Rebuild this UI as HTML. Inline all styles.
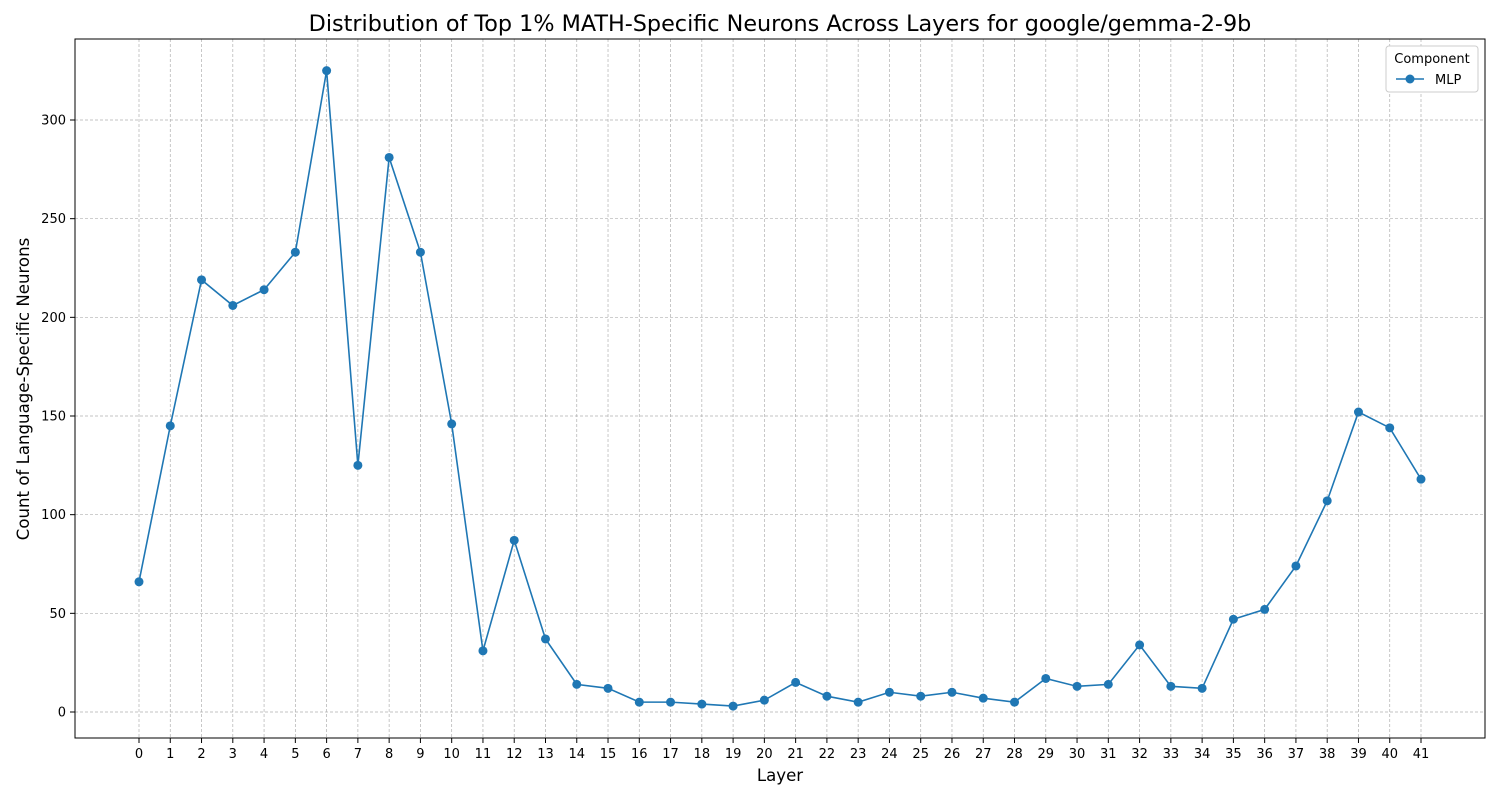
<!DOCTYPE html>
<html><head><meta charset="utf-8"><style>
body{margin:0;background:#fff;font-family:"DejaVu Sans","Liberation Sans",sans-serif;}
svg text{font-family:"DejaVu Sans","Liberation Sans",sans-serif;}
</style></head><body>
<svg id="chart" width="1500" height="800" viewBox="0 0 1500 800" xmlns="http://www.w3.org/2000/svg">
<rect width="1500" height="800" fill="#fff"/>
<text x="780" y="31" font-size="22.3" text-anchor="middle">Distribution of Top 1% MATH-Specific Neurons Across Layers for google/gemma-2-9b</text>
<g id="grid"></g>
<g id="xticks"></g>
<g id="yticks"></g>
<rect x="75" y="39" width="1410" height="699" fill="none" stroke="#000" stroke-width="1"/>
<g id="series"></g>
<text x="780" y="781" font-size="16.6" text-anchor="middle">Layer</text>
<text transform="translate(29,389) rotate(-90)" font-size="16.6" text-anchor="middle">Count of Language-Specific Neurons</text>
<g>
<rect x="1386" y="46" width="92" height="46" rx="3" fill="#fff" stroke="#ccc"/>
<text x="1432" y="63" font-size="13" text-anchor="middle">Component</text>
<line x1="1396" y1="79" x2="1424" y2="79" stroke="#1f77b4" stroke-width="1.5"/>
<circle cx="1410" cy="79" r="4.5" fill="#1f77b4"/>
<text x="1435" y="84" font-size="13">MLP</text>
</g>
</svg>
<script>
const layers=[0,1,2,3,4,5,6,7,8,9,10,11,12,13,14,15,16,17,18,19,20,21,22,23,24,25,26,27,28,29,30,31,32,33,34,35,36,37,38,39,40,41];
const mlpCounts=[66,145,219,206,214,233,325,125,281,233,146,31,87,37,14,12,5,5,4,3,6,15,8,5,10,8,10,7,5,17,13,14,34,13,12,47,52,74,107,152,144,118];
const yTickValues=[0,50,100,150,200,250,300];
const NS="http://www.w3.org/2000/svg";
const x=v=>139+(v-0)*(1421-139)/41;
const y=v=>712-v*592/300;
function mk(t,a,p){const e=document.createElementNS(NS,t);for(const k in a)e.setAttribute(k,a[k]);p.appendChild(e);return e;}
const grid=document.getElementById('grid'),xt=document.getElementById('xticks'),yt=document.getElementById('yticks'),se=document.getElementById('series');
layers.forEach(l=>{
 const g=mk('line',{x1:x(l),x2:x(l),y1:39,y2:738,stroke:'#b0b0b0','stroke-width':0.7,'stroke-dasharray':'3,2'},grid);
 
 
 mk('line',{x1:x(l),x2:x(l),y1:738,y2:743,stroke:'#000'},xt);
 const t=mk('text',{x:x(l),y:758,'font-size':13,'text-anchor':'middle'},xt);t.textContent=l;
 
 
});
yTickValues.forEach(v=>{
 const g=mk('line',{x1:75,x2:1485,y1:y(v),y2:y(v),stroke:'#b0b0b0','stroke-width':0.7,'stroke-dasharray':'3,2'},grid);
 
 
 mk('line',{x1:70,x2:75,y1:y(v),y2:y(v),stroke:'#000'},yt);
 const t=mk('text',{x:66,y:y(v)+4.5,'font-size':13,'text-anchor':'end'},yt);t.textContent=v;
 
 
});
const pl=mk('polyline',{points:layers.map((l,i)=>x(l)+','+y(mlpCounts[i])).join(' '),fill:'none',stroke:'#1f77b4','stroke-width':1.6},se);


layers.forEach((l,i)=>{
 const c=mk('circle',{cx:x(l),cy:y(mlpCounts[i]),r:4.5,fill:'#1f77b4'},se);
 
 
});
</script>
</body></html>
